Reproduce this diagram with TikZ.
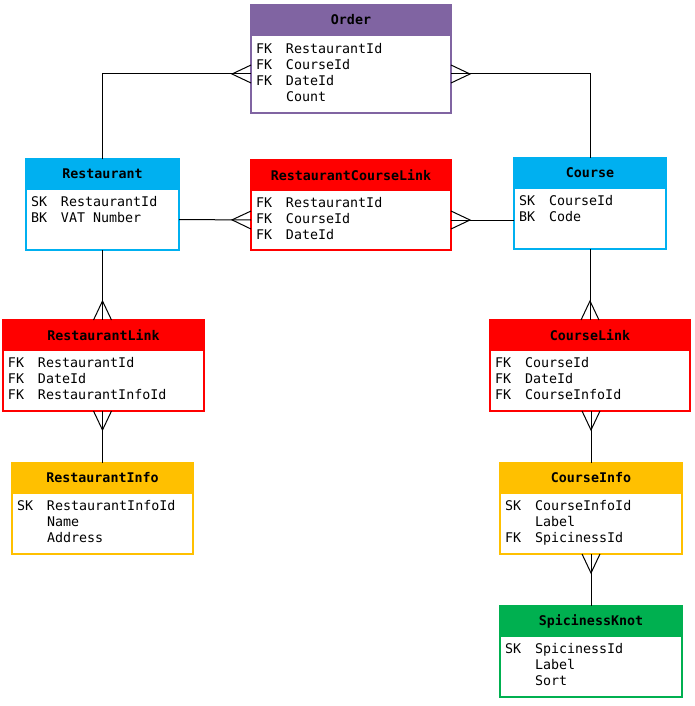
\documentclass[tikz,border=0pt]{standalone}
\usepackage{fontspec}
\setmonofont{DejaVu Sans Mono}
\usetikzlibrary{positioning, decorations.markings}
\definecolor{ordercol}{HTML}{8064A2}
\definecolor{hubcol}{HTML}{00B0F0}
\definecolor{linkcol}{HTML}{FF0000}
\definecolor{infocol}{HTML}{FFC000}
\definecolor{knotcol}{HTML}{00B050}
\newcommand{\keyrow}[2]{\makebox[30pt][l]{#1}#2\strut}
\tikzstyle{head} = [rectangle, anchor=north west, outer sep=0pt, minimum height=30pt, line width=2pt, text=black, font=\ttfamily\bfseries\fontsize{13.33}{16}\selectfont]
\tikzstyle{body} = [rectangle, outer sep=0pt, inner xsep=5pt, inner ysep=0pt, line width=2pt, fill=white, align=left, minimum height=61pt, font=\ttfamily\fontsize{13.33}{16}\selectfont]
\tikzstyle{many} = [line width=1pt, postaction={decorate}, decoration={markings, mark=at position 1 with {\draw[line width=1pt] (0,9) -- (-19,0) -- (0,-9);}}]

\begin{document}
\begin{tikzpicture}[x=1pt, y=-1pt]
        \useasboundingbox (0,0) rectangle (695,706);
        % entities
        \node (order) [head, draw=ordercol, fill=ordercol, minimum width=200pt] at (251,5) {Order};
        \node (orderbody) [body, draw=ordercol, text width=190pt, minimum height=78pt, below=0pt of order] {\keyrow{FK}{RestaurantId}\\ \keyrow{FK}{CourseId}\\ \keyrow{FK}{DateId}\\ \keyrow{}{Count}};
        \node (restaurant) [head, draw=hubcol, fill=hubcol, minimum width=153pt] at (26,159) {Restaurant};
        \node (restaurantbody) [body, draw=hubcol, text width=143pt, below=0pt of restaurant] {\keyrow{SK}{RestaurantId}\\ \keyrow{BK}{VAT\hphantom{x}Number}\\ \strut};
        \node (rcl) [head, draw=linkcol, fill=linkcol, minimum width=200pt] at (251,160) {RestaurantCourseLink};
        \node (rclbody) [body, draw=linkcol, text width=190pt, minimum height=60pt, below=0pt of rcl] {\keyrow{FK}{RestaurantId}\\ \keyrow{FK}{CourseId}\\ \keyrow{FK}{DateId}};
        \node (course) [head, draw=hubcol, fill=hubcol, minimum width=152pt] at (514,158) {Course};
        \node (coursebody) [body, draw=hubcol, text width=142pt, below=0pt of course] {\keyrow{SK}{CourseId}\\ \keyrow{BK}{Code}\\ \strut};
        \node (restlink) [head, draw=linkcol, fill=linkcol, minimum width=201pt] at (3,320) {RestaurantLink};
        \node (restlinkbody) [body, draw=linkcol, text width=191pt, below=0pt of restlink] {\keyrow{FK}{RestaurantId}\\ \keyrow{FK}{DateId}\\ \keyrow{FK}{RestaurantInfoId}};
        \node (courselink) [head, draw=linkcol, fill=linkcol, minimum width=200pt] at (490,320) {CourseLink};
        \node (courselinkbody) [body, draw=linkcol, text width=190pt, below=0pt of courselink] {\keyrow{FK}{CourseId}\\ \keyrow{FK}{DateId}\\ \keyrow{FK}{CourseInfoId}};
        \node (restinfo) [head, draw=infocol, fill=infocol, minimum width=181pt] at (12,463) {RestaurantInfo};
        \node (restinfobody) [body, draw=infocol, text width=171pt, below=0pt of restinfo] {\keyrow{SK}{RestaurantInfoId}\\ \keyrow{}{Name}\\ \keyrow{}{Address}};
        \node (courseinfo) [head, draw=infocol, fill=infocol, minimum width=182pt] at (500,463) {CourseInfo};
        \node (courseinfobody) [body, draw=infocol, text width=172pt, below=0pt of courseinfo] {\keyrow{SK}{CourseInfoId}\\ \keyrow{}{Label}\\ \keyrow{FK}{SpicinessId}};
        \node (knot) [head, draw=knotcol, fill=knotcol, minimum width=182pt] at (500,606) {SpicinessKnot};
        \node (knotbody) [body, draw=knotcol, text width=172pt, below=0pt of knot] {\keyrow{SK}{SpicinessId}\\ \keyrow{}{Label}\\ \keyrow{}{Sort}};

        % relationships (crow's foot on the many side)
        \draw [many] (restaurant.north) |- (orderbody.west);
        \draw [many] (course.north) |- (orderbody.east);
        \draw [many] (restaurantbody.east) -- (rclbody.west);
        \draw [many] (coursebody.west |- rclbody.east) -- (rclbody.east);
        \draw [many] (restaurantbody.south) -- (restaurantbody.south |- restlink.north);
        \draw [many] (restinfo.north) -- (restinfo.north |- restlinkbody.south);
        \draw [many] (coursebody.south) -- (coursebody.south |- courselink.north);
        \draw [many] (courseinfo.north) -- (courseinfo.north |- courselinkbody.south);
        \draw [many] (knot.north) -- (knot.north |- courseinfobody.south);
\end{tikzpicture}
\end{document}
